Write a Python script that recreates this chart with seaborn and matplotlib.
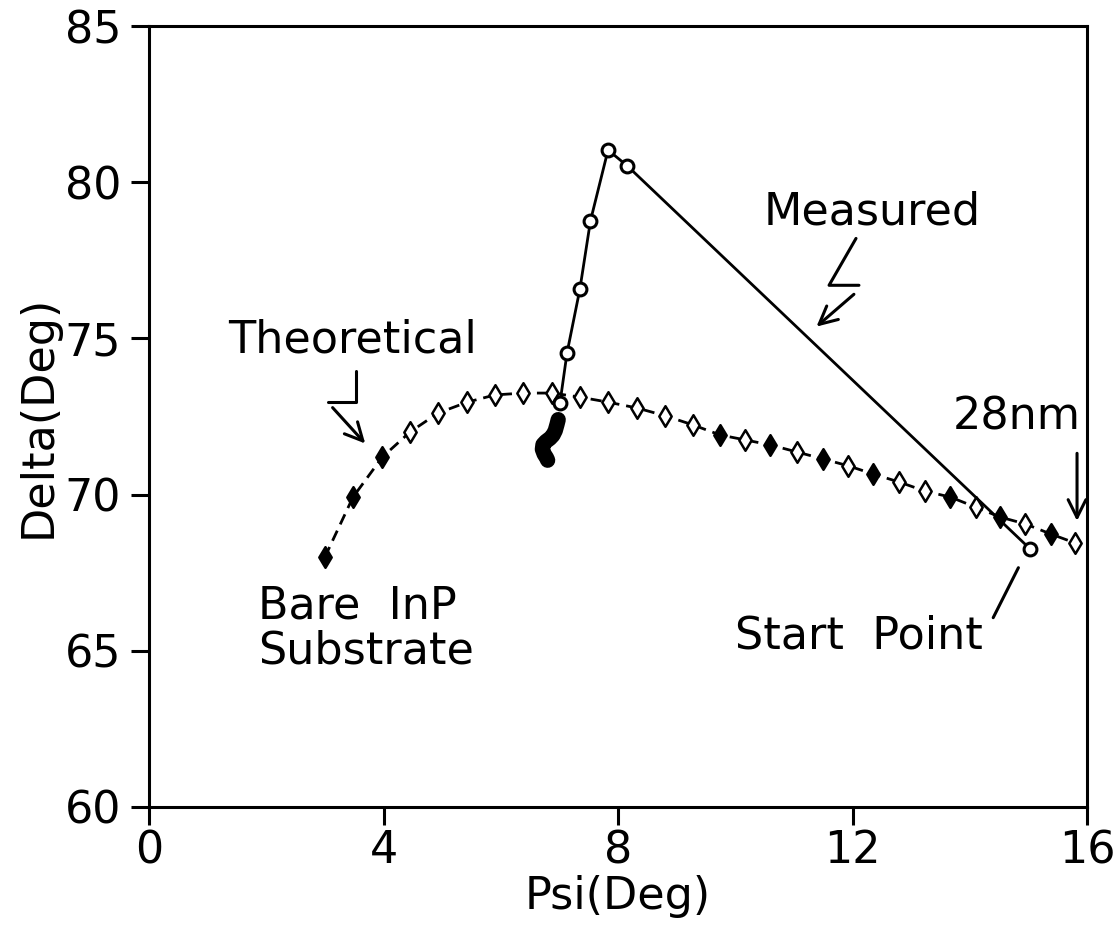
import matplotlib
matplotlib.use("Agg")
import matplotlib.pyplot as plt
import seaborn as sns
import pandas as pd

# ---- data ----
theo_psi = [3.00, 3.48, 3.98, 4.45, 4.93, 5.43, 5.90, 6.38, 6.88, 7.35, 7.83, 8.33,
            8.81, 9.28, 9.74, 10.17, 10.60, 11.06, 11.50, 11.93, 12.35, 12.80, 13.24,
            13.67, 14.10, 14.52, 14.95, 15.38, 15.80]
theo_delta = [68.00, 69.92, 71.20, 72.00, 72.61, 72.96, 73.19, 73.25, 73.25, 73.12,
              72.96, 72.77, 72.52, 72.23, 71.91, 71.75, 71.59, 71.36, 71.14, 70.92,
              70.66, 70.40, 70.11, 69.92, 69.60, 69.28, 69.06, 68.74, 68.45]
theo_filled = [0, 1, 2, 14, 16, 18, 20, 23, 25, 27]

meas_psi = [15.03, 8.16, 7.83, 7.53, 7.35, 7.13, 7.01]
meas_delta = [68.26, 80.52, 81.03, 78.76, 76.58, 74.53, 72.93]

blob_psi = [6.98, 6.96, 6.93, 6.89, 6.84, 6.77, 6.72, 6.71, 6.74, 6.78, 6.80]
blob_delta = [72.40, 72.25, 72.05, 71.90, 71.80, 71.70, 71.60, 71.45, 71.30, 71.18, 71.10]

x_ticks = [0, 4, 8, 12, 16]
y_ticks = [60, 65, 70, 75, 80, 85]
x_label = "Psi(Deg)"
y_label = "Delta(Deg)"

# ---- figure ----
sns.set_style("ticks")
plt.rcParams['font.family'] = ['DejaVu Sans']
plt.rcParams['text.color'] = 'black'
plt.rcParams['axes.labelcolor'] = 'black'
FS = 32

fig = plt.figure(figsize=(11.18, 9.31), dpi=100)
ax = fig.add_axes([149 / 1118, 1 - 807 / 931, (1087 - 149) / 1118, (807 - 26) / 931])

theo = pd.DataFrame({"psi": theo_psi, "delta": theo_delta})
theo["filled"] = [i in theo_filled for i in range(len(theo_psi))]
meas = pd.DataFrame({"psi": meas_psi, "delta": meas_delta})
blob = pd.DataFrame({"psi": blob_psi, "delta": blob_delta})

# theoretical dashed curve
sns.lineplot(data=theo, x="psi", y="delta", sort=False, estimator=None, ax=ax,
             color="black", lw=2.0, linestyle=(0, (4, 2.5)), zorder=2)
sns.scatterplot(data=theo[~theo["filled"]], x="psi", y="delta", ax=ax, marker="d",
                s=110, facecolor="white", edgecolor="black", linewidth=1.8, zorder=3)
sns.scatterplot(data=theo[theo["filled"]], x="psi", y="delta", ax=ax, marker="d",
                s=110, facecolor="black", edgecolor="black", linewidth=1.8, zorder=3)

# measured curve
sns.lineplot(data=meas, x="psi", y="delta", sort=False, estimator=None, ax=ax,
             color="black", lw=2.0, zorder=4)
sns.lineplot(data=blob, x="psi", y="delta", sort=False, estimator=None, ax=ax,
             color="black", lw=11, solid_capstyle="round", zorder=4)
sns.scatterplot(data=meas, x="psi", y="delta", ax=ax, marker="o", s=85,
                facecolor="white", edgecolor="black", linewidth=2.2, zorder=5)

# ---- annotations ----
txt = dict(fontsize=FS, color="black")
ax.text(12.34, 79.04, "Measured", ha="center", va="center", **txt)
ax.plot([12.06, 11.60, 12.11], [78.20, 76.70, 76.70], color="black", lw=2.2)
ax.annotate("", xy=(11.35, 75.32), xytext=(12.06, 76.47),
            arrowprops=dict(arrowstyle="->", lw=2.2, color="black", mutation_scale=32))

ax.text(3.47, 74.94, "Theoretical", ha="center", va="center", **txt)
ax.plot([3.53, 3.53, 3.05], [73.97, 72.98, 72.98], color="black", lw=2.2)
ax.annotate("", xy=(3.72, 71.57), xytext=(3.10, 72.85),
            arrowprops=dict(arrowstyle="->", lw=2.2, color="black", mutation_scale=32))

ax.text(14.80, 72.47, "28nm", ha="center", va="center", **txt)
ax.annotate("", xy=(15.83, 69.07), xytext=(15.83, 71.41),
            arrowprops=dict(arrowstyle="->", lw=2.2, color="black", mutation_scale=32))

ax.text(9.99, 65.48, "Start  Point", ha="left", va="center", **txt)
ax.plot([14.40, 14.83], [66.06, 67.66], color="black", lw=2.2)

ax.text(1.86, 66.44, "Bare  InP", ha="left", va="center", **txt)
ax.text(1.86, 65.00, "Substrate", ha="left", va="center", **txt)

# ---- axes ----
ax.set_xlim(0, 16)
ax.set_ylim(60, 85)
ax.set_xticks(x_ticks)
ax.set_yticks(y_ticks)
ax.set_xlabel(x_label, fontsize=FS, labelpad=2, color="black")
ax.set_ylabel(y_label, fontsize=FS, labelpad=4, color="black")
ax.tick_params(axis="both", direction="out", length=13, width=2.2, labelsize=FS,
               color="black", labelcolor="black")
ax.tick_params(axis="x", pad=3)
ax.tick_params(axis="y", pad=7)
for sp in ax.spines.values():
    sp.set_visible(True)
    sp.set_linewidth(2.2)
    sp.set_color("black")

fig.savefig("out.png", dpi=100, facecolor="white")
